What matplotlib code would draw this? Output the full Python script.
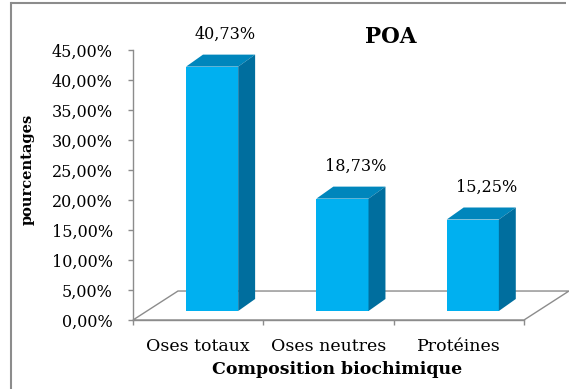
import matplotlib
matplotlib.use("Agg")
import matplotlib.pyplot as plt
from matplotlib.patches import Polygon, Rectangle
from matplotlib.lines import Line2D

# ---------- DATA ----------
categories = ["Oses totaux", "Oses neutres", "Protéines"]
values = [40.73, 18.73, 15.25]
value_labels = ["40,73%", "18,73%", "15,25%"]
yticks = [0, 5, 10, 15, 20, 25, 30, 35, 40, 45]
ytick_labels = ["0,00%", "5,00%", "10,00%", "15,00%", "20,00%",
                "25,00%", "30,00%", "35,00%", "40,00%", "45,00%"]

# ---------- STYLE ----------
plt.rcParams['font.family'] = ['DejaVu Serif']
FRONT = "#00B0F0"
TOP = "#0086BC"
SIDE = "#006E9E"
GRAY = "#8C8C8C"

# fake 3D geometry (data units of the front plane)
FLOOR_DX, FLOOR_DY = 0.345, 4.83
BAR_OFF_X, BAR_OFF_Y = 0.107, 1.5
BAR_DX, BAR_DY = 0.13, 2.0
BAR_W = 0.4

fig = plt.figure(figsize=(5.69, 3.89), dpi=100)
ax = fig.add_axes([133 / 569, 69 / 389, 391 / 569, 270 / 389])
ax.set_xlim(-0.5, 2.5)
ax.set_ylim(0, 45)

# floor outline
floor = [(-0.5, 0), (2.5, 0), (2.5 + FLOOR_DX, FLOOR_DY), (-0.5 + FLOOR_DX, FLOOR_DY)]
ax.add_patch(Polygon(floor, closed=True, facecolor="white", edgecolor=GRAY,
                     linewidth=1.0, clip_on=False, zorder=1))

# bars
for i, (v, lab) in enumerate(zip(values, value_labels)):
    x0 = i - BAR_W / 2 + BAR_OFF_X
    y0 = BAR_OFF_Y
    ax.add_patch(Rectangle((x0, y0), BAR_W, v, facecolor=FRONT, linewidth=0,
                           clip_on=False, zorder=3))
    top = [(x0, y0 + v), (x0 + BAR_W, y0 + v),
           (x0 + BAR_W + BAR_DX, y0 + v + BAR_DY), (x0 + BAR_DX, y0 + v + BAR_DY)]
    ax.add_patch(Polygon(top, closed=True, facecolor=TOP, linewidth=0,
                         clip_on=False, zorder=3))
    side = [(x0 + BAR_W, y0), (x0 + BAR_W + BAR_DX, y0 + BAR_DY),
            (x0 + BAR_W + BAR_DX, y0 + v + BAR_DY), (x0 + BAR_W, y0 + v)]
    ax.add_patch(Polygon(side, closed=True, facecolor=SIDE, linewidth=0,
                         clip_on=False, zorder=3))
    ax.text(i + 0.21, y0 + v + BAR_DY + 3.3, lab, ha="center", va="center",
            fontsize=11.5, color="black", zorder=4)

# axes styling
for s in ["top", "right"]:
    ax.spines[s].set_visible(False)
for s in ["left", "bottom"]:
    ax.spines[s].set_color(GRAY)
    ax.spines[s].set_linewidth(1.0)
    ax.spines[s].set_zorder(2)
ax.patch.set_visible(False)

ax.set_yticks(yticks)
ax.set_yticklabels(ytick_labels)
ax.tick_params(axis="y", direction="out", length=3.6, width=1.0, color=GRAY,
               pad=11, labelsize=11.5)

ax.set_xticks(range(len(categories)))
ax.set_xticklabels(categories)
ax.set_xticks([-0.5, 0.5, 1.5, 2.5], minor=True)
ax.tick_params(axis="x", which="major", length=0, pad=13, labelsize=12.5)
ax.tick_params(axis="x", which="minor", direction="out", length=3.6,
               width=1.0, color=GRAY)

# titles and axis labels
fig.text(391 / 569, 1 - 37 / 389, "POA", ha="center", va="center",
         fontsize=15.5, fontweight="bold")
fig.text(337 / 569, 1 - 370 / 389, "Composition biochimique", ha="center",
         va="center", fontsize=12.5, fontweight="bold")
fig.text(28 / 569, 1 - 169 / 389, "pourcentages", ha="center", va="center",
         rotation=90, fontsize=10.5, fontweight="bold")

# chart border (left and top visible only)
fig.add_artist(Line2D([10.5 / 569, 10.5 / 569], [0, 1 - 3 / 389],
                      transform=fig.transFigure, color=GRAY, linewidth=1.5))
fig.add_artist(Line2D([10.5 / 569, 566 / 569], [1 - 3 / 389, 1 - 3 / 389],
                      transform=fig.transFigure, color=GRAY, linewidth=1.5,
                      solid_capstyle="butt"))

fig.savefig("out.png", dpi=100)
